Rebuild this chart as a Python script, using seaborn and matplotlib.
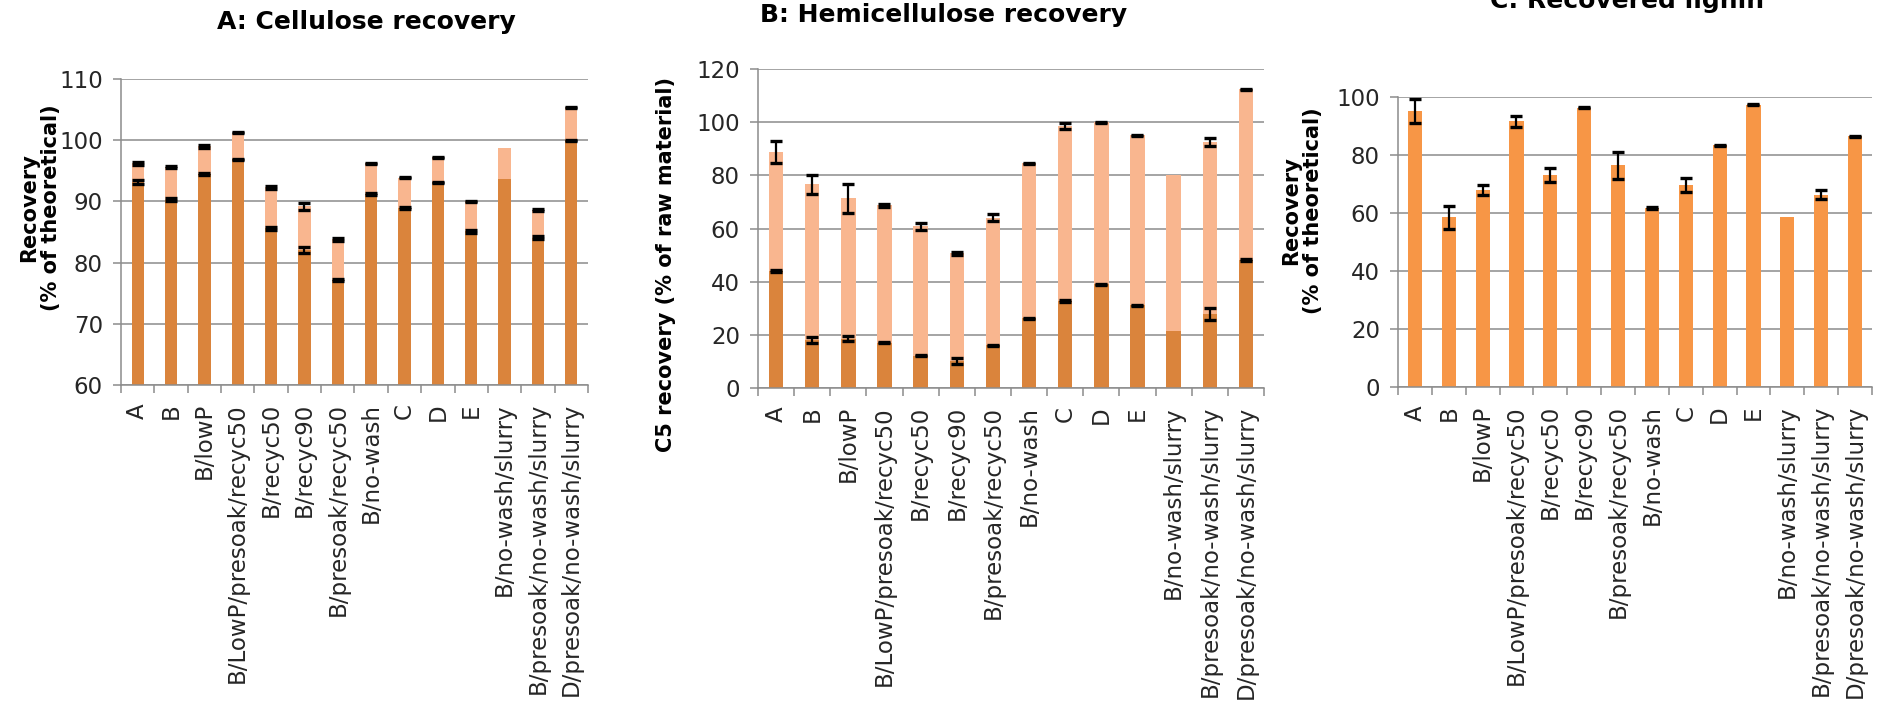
import numpy as np
import pandas as pd
import matplotlib
matplotlib.use("Agg")
import matplotlib.pyplot as plt
import seaborn as sns

# Pretreatment conditions (shared by all three panels)
conditions = ["A", "B", "B/lowP", "B/LowP/presoak/recyc50", "B/recyc50", "B/recyc90",
              "B/presoak/recyc50", "B/no-wash", "C", "D", "E", "B/no-wash/slurry",
              "B/presoak/no-wash/slurry", "D/presoak/no-wash/slurry"]

# Panel A: cellulose recovery (% of theoretical), solid fraction + liquid fraction
cellulose_solid = [93.2, 90.3, 94.5, 96.9, 85.6, 82.0, 77.2, 91.2, 88.9, 93.1, 85.1, 93.7, 84.1, 100.0]
cellulose_liquid = [3.0, 5.3, 4.5, 4.3, 6.7, 7.2, 6.6, 5.0, 5.0, 4.1, 4.9, 5.1, 4.5, 5.4]
cellulose_solid_err = [0.3, 0.2, 0.2, 0.1, 0.2, 0.5, 0.2, 0.1, 0.2, 0.1, 0.2, 0.0, 0.2, 0.1]
cellulose_total_err = [0.2, 0.2, 0.2, 0.1, 0.2, 0.6, 0.2, 0.1, 0.1, 0.1, 0.1, 0.0, 0.1, 0.1]

# Panel B: C5 recovery (% of raw material), solid fraction + liquid fraction
hemi_solid = [44.0, 18.0, 18.5, 17.1, 12.2, 10.2, 16.0, 26.2, 32.7, 39.0, 31.1, 21.4, 27.8, 48.1]
hemi_liquid = [44.9, 58.6, 52.8, 51.7, 48.6, 40.4, 48.1, 58.3, 65.8, 61.0, 63.9, 58.6, 64.8, 64.2]
hemi_solid_err = [0.3, 1.0, 1.0, 0.3, 0.3, 1.2, 0.3, 0.3, 0.3, 0.3, 0.3, 0.0, 2.2, 0.3]
hemi_total_err = [4.2, 3.5, 5.3, 0.6, 1.3, 0.5, 1.3, 0.2, 1.0, 0.2, 0.2, 0.0, 1.5, 0.2]

# Panel C: recovered lignin (% of theoretical)
lignin = [95.2, 58.5, 67.9, 91.6, 73.1, 96.3, 76.5, 61.7, 69.8, 83.4, 97.4, 58.5, 66.3, 86.5]
lignin_err = [4.0, 4.0, 1.7, 2.0, 2.5, 0.2, 4.7, 0.2, 2.4, 0.2, 0.2, 0.0, 1.6, 0.2]

DARK = "#DA843C"
LIGHT = "#F9B68F"
LIGNIN = "#F79646"
GRID = "#8C8C8C"
TEXT = "#262626"

W, H = 1881, 702
fig = plt.figure(figsize=(W / 100, H / 100), dpi=100)


def fig_axes(left, top, right, bottom):
    return fig.add_axes([left / W, 1 - bottom / H, (right - left) / W, (bottom - top) / H])


def style_axes(ax, ymin, ymax, step):
    n = len(conditions)
    ax.set_xlim(-0.5, n - 0.5)
    ax.set_ylim(ymin, ymax)
    ax.set_yticks(np.arange(ymin, ymax + 0.1, step))
    ax.yaxis.grid(True, color=GRID, linewidth=1.1)
    ax.xaxis.grid(False)
    ax.set_axisbelow(True)
    for side in ("top", "right"):
        ax.spines[side].set_visible(False)
    for side in ("left", "bottom"):
        ax.spines[side].set_color(GRID)
        ax.spines[side].set_linewidth(1.1)
    ax.set_xticks(range(n))
    ax.set_xticklabels(conditions, rotation=90)
    ax.set_xticks(np.arange(-0.5, n), minor=True)
    ax.tick_params(axis="x", which="major", length=0, pad=13, labelsize=16.5, labelcolor=TEXT)
    ax.tick_params(axis="x", which="minor", length=6, width=1.1, color=GRID)
    ax.tick_params(axis="y", length=6, width=1.1, color=GRID, pad=7, labelsize=16.5, labelcolor=TEXT)
    ax.set_xlabel("")
    ax.set_ylabel("")


def add_errors(ax, values, errs, capsize=4.2):
    x = np.array([i for i, e in enumerate(errs) if e > 0])
    y = np.array([values[i] for i in x])
    e = np.array([errs[i] for i in x])
    ax.errorbar(x, y, yerr=e, fmt="none", ecolor="black", elinewidth=1.6,
                capsize=capsize, capthick=2.4, zorder=5)


def stacked_panel(ax, solid, liquid, solid_err, total_err, width):
    solid = np.array(solid)
    total = solid + np.array(liquid)
    df = pd.DataFrame({"condition": conditions, "solid": solid, "total": total})
    sns.barplot(data=df, x="condition", y="total", color=LIGHT, saturation=1,
                width=width, linewidth=0, errorbar=None, ax=ax)
    sns.barplot(data=df, x="condition", y="solid", color=DARK, saturation=1,
                width=width, linewidth=0, errorbar=None, ax=ax)
    add_errors(ax, solid, solid_err)
    add_errors(ax, total, total_err)


# Panel A
axA = fig_axes(121, 79, 588, 385)
stacked_panel(axA, cellulose_solid, cellulose_liquid, cellulose_solid_err, cellulose_total_err, 0.37)
style_axes(axA, 60, 110, 10)

# Panel B
axB = fig_axes(758, 69, 1264, 388)
stacked_panel(axB, hemi_solid, hemi_liquid, hemi_solid_err, hemi_total_err, 0.40)
style_axes(axB, 0, 120, 20)

# Panel C
axC = fig_axes(1398, 97, 1872, 387)
dfC = pd.DataFrame({"condition": conditions, "lignin": lignin})
sns.barplot(data=dfC, x="condition", y="lignin", color=LIGNIN, saturation=1,
            width=0.42, linewidth=0, errorbar=None, ax=axC)
add_errors(axC, lignin, lignin_err)
style_axes(axC, 0, 100, 20)

# Panel titles
title_kw = dict(ha="center", va="baseline", fontsize=18, fontweight="bold", color="black")
fig.text(366 / W, 1 - 29 / H, "A: Cellulose recovery", **title_kw)
fig.text(944 / W, 1 - 22 / H, "B: Hemicellulose recovery", **title_kw)
fig.text(1627 / W, 1 - 8 / H, "C: Recovered lignin", **title_kw)

# Axis titles
ylab_kw = dict(ha="center", va="center", rotation=90, fontsize=15, fontweight="bold",
               color="black", multialignment="center", linespacing=1.1)
fig.text(40 / W, 1 - 208 / H, "Recovery\n(% of theoretical)", **ylab_kw)
fig.text(666 / W, 1 - 265 / H, "C5 recovery (% of raw material)", **ylab_kw)
fig.text(1302 / W, 1 - 211 / H, "Recovery\n(% of theoretical)", **ylab_kw)

fig.savefig("out.png", dpi=100)
